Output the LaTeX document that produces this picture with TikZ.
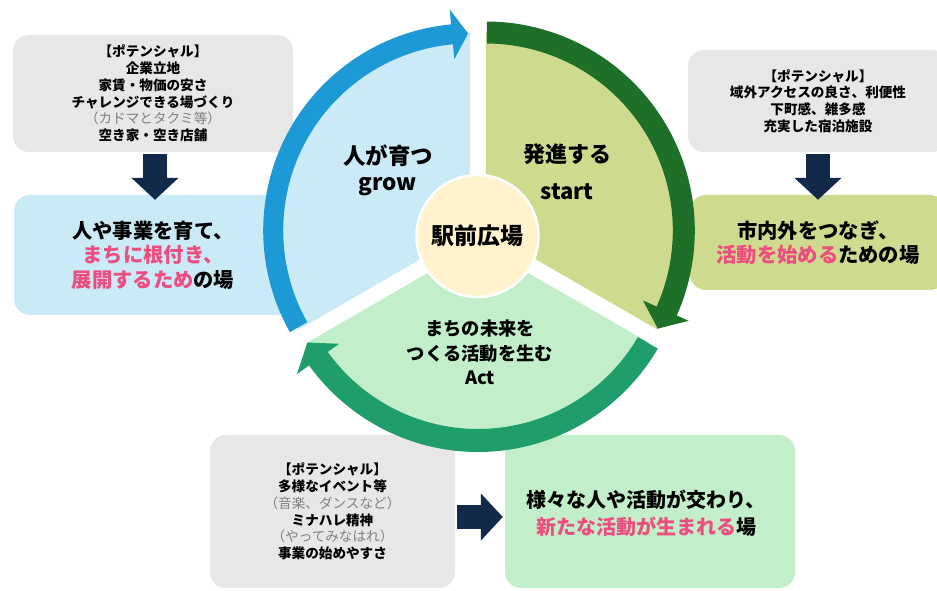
\documentclass[tikz,border=0pt]{standalone}
\usepackage{fontspec}
\setmainfont{Noto Sans CJK JP}
\usetikzlibrary{arrows.meta}
\definecolor{potgray}{HTML}{E7E7E7}
\definecolor{lblue}{HTML}{CBEAF8}
\definecolor{lolive}{HTML}{CEDB8F}
\definecolor{lgreen}{HTML}{C2EFC9}
\definecolor{bluearc}{HTML}{1D9AD6}
\definecolor{greenarc}{HTML}{1E6F27}
\definecolor{tealarc}{HTML}{1F9E6C}
\definecolor{cream}{HTML}{FFF2CC}
\definecolor{navy}{HTML}{112A4A}
\definecolor{pinktext}{HTML}{EE4D80}
\definecolor{graytext}{HTML}{808080}
\begin{document}
\begin{tikzpicture}[x=1pt,y=1pt,
  potbox/.style={fill=potgray, rounded corners=16pt, align=center, inner sep=0pt,
    font=\fontsize{13.6}{16.8}\selectfont\bfseries},
  resbox/.style={rounded corners=16pt, align=center, inner sep=0pt,
    font=\fontsize{20.3}{24.5}\selectfont\bfseries},
  bigarrow/.style={draw=navy, line width=24pt, -{Triangle[width=46pt,length=22pt]}},
  soft/.style={text=graytext, font=\mdseries}
]
\useasboundingbox (0,0) rectangle (937,591);
\clip (0,0) rectangle (937,591);
\fill[white] (0,0) rectangle (937,591);

% ---- boxes ----
\node[potbox, minimum width=280pt, minimum height=117pt] (pot1) at (153,497.5)
  {【ポテンシャル】\\企業立地\\家賃・物価の安さ\\チャレンジできる場づくり\\\textcolor{graytext}{\mdseries （カドマとタクミ等）}\\空き家・空き店舗};
\node[resbox, fill=lblue, minimum width=278pt, minimum height=120pt] (res1) at (153,336)
  {人や事業を育て、\\\textcolor{pinktext}{まちに根付き、}\\\textcolor{pinktext}{展開するため}の場};
\node[potbox, minimum width=260pt, minimum height=102pt] (pot2) at (818,490)
  {【ポテンシャル】\\域外アクセスの良さ、利便性\\下町感、雑多感\\充実した宿泊施設};
\node[resbox, fill=lolive, minimum width=256pt, minimum height=95pt] (res2) at (818,348.5)
  {市内外をつなぎ、\\\textcolor{pinktext}{活動を始める}ための場};
\node[potbox, minimum width=245pt, minimum height=153pt] (pot3) at (332.5,79.5)
  {【ポテンシャル】\\多様なイベント等\\\textcolor{graytext}{\mdseries （音楽、ダンスなど）}\\ミナハレ精神\\\textcolor{graytext}{\mdseries （やってみなはれ）}\\事業の始めやすさ};
\node[resbox, fill=lgreen, minimum width=290pt, minimum height=153pt] (res3) at (650,79.5) {};
\node[align=center, inner sep=0pt, font=\fontsize{20}{27}\selectfont\bfseries] (res3text) at (646,77.5)
  {様々な人や活動が交わり、\\\textcolor{pinktext}{新たな活動が生まれる}場};

% ---- cycle ----
\coordinate (O) at (478,356);
\coordinate (B) at (470.2,360.5);
\coordinate (G) at (485.8,360.5);
\coordinate (A) at (478,347);

\fill[lblue, shift={(B)}] (0,0) -- (90:198pt) arc[start angle=90, end angle=210, radius=198pt] -- cycle;
\fill[lolive, shift={(G)}] (0,0) -- (-30:198pt) arc[start angle=-30, end angle=90, radius=198pt] -- cycle;
\fill[lgreen, shift={(A)}] (0,0) -- (210:197pt) arc[start angle=210, end angle=330, radius=197pt] -- cycle;

% blue arrow (grow)
\fill[bluearc, shift={(B)}] (209.4:207pt) arc[start angle=209.4, end angle=95.3, radius=207pt]
  -- (95.3:222pt) -- (90.6:197pt) -- (95.3:172pt) -- (95.3:187pt)
  arc[start angle=95.3, end angle=209.4, radius=187pt] -- cycle;
% dark green arrow (start)
\fill[greenarc, shift={(G)}] (89.7:209pt) arc[start angle=89.7, end angle=-24, radius=209pt]
  -- (-24:222pt) -- (-29.7:198pt) -- (-24:172pt) -- (-24:187pt)
  arc[start angle=-24, end angle=89.7, radius=187pt] -- cycle;
% teal arrow (act)
\fill[tealarc, shift={(A)}] (-30.2:208pt) arc[start angle=-30.2, end angle=-144.3, radius=208pt]
  -- (-144.3:223pt) -- (-150:197pt) -- (-144.3:171pt) -- (-144.3:185pt)
  arc[start angle=-144.3, end angle=-30.2, radius=185pt] -- cycle;

\node[circle, fill=cream, draw=white, line width=2.5pt, minimum size=122pt, inner sep=0pt,
  font=\fontsize{23}{26}\selectfont\bfseries] (hub) at (477.5,355) {駅前広場};

\node[align=center, inner sep=0pt, font=\fontsize{22.5}{26}\selectfont\bfseries] (grow) at (388,421) {人が育つ\\grow};
\node[align=center, inner sep=0pt, font=\fontsize{22}{37}\selectfont\bfseries] (start) at (567,419.5) {発進する\\start};
\node[align=center, inner sep=0pt, font=\fontsize{18.3}{24.5}\selectfont\bfseries] (act) at (480,238.5)
  {まちの未来を\\つくる活動を生む\\Act};

% ---- block arrows ----
\draw[bigarrow] ([xshift=2pt,yshift=-2pt]pot1.south) -- ([xshift=2pt,yshift=-5pt]res1.north);
\draw[bigarrow] ([yshift=-2pt]pot2.south) -- ([yshift=-5pt]res2.north);
\draw[bigarrow] ([xshift=2pt,yshift=-5.5pt]pot3.east) -- ([xshift=-2pt,yshift=-5.5pt]res3.west);
\end{tikzpicture}
\end{document}
